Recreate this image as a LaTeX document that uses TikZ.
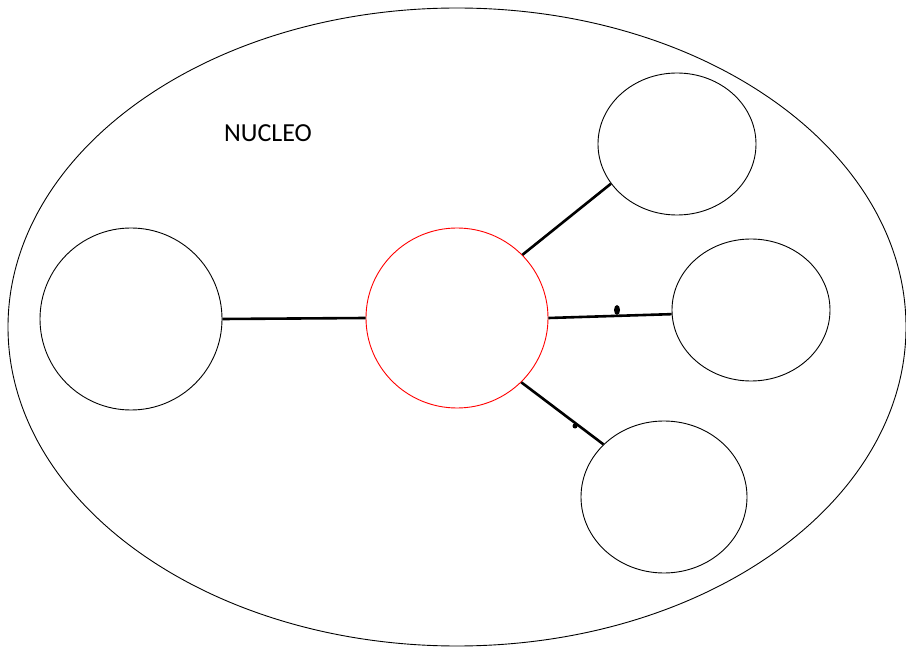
\documentclass[tikz,border=0pt]{standalone}
\usepackage{fontspec}
\setsansfont{Carlito}
\usepackage{xcolor}
\definecolor{ColA}{RGB}{0,0,0}
\definecolor{ColB}{RGB}{255,0,0}
\usetikzlibrary{shapes.geometric}
\tikzstyle{Cell}=[ellipse,draw=ColA,line width=0.9pt,inner sep=0pt]
\tikzstyle{Core}=[ellipse,draw=ColB,line width=0.9pt,inner sep=0pt]
\tikzstyle{Edge}=[draw=ColA,line width=2.6pt]
\tikzstyle{Dot}=[ellipse,fill=ColA,inner sep=0pt]
\tikzstyle{Label}=[font=\sffamily\fontsize{26}{30}\selectfont]
\begin{document}
\begin{tikzpicture}[x=1pt,y=-1pt]
        \useasboundingbox (0,0) rectangle (906,647);
        \node[Cell,minimum width=898,minimum height=638](n)at(457,327){};
        \node[Label](t)at(268,133){NUCLEO};
        \node[Cell,minimum width=182,minimum height=182](l)at(131,319){};
        \node[Core,minimum width=182,minimum height=180](c)at(457,318){};
        \node[Cell,minimum width=158,minimum height=142](a)at(677,144){};
        \node[Cell,minimum width=158,minimum height=142](b)at(751,310){};
        \node[Cell,minimum width=166,minimum height=152](d)at(664,497){};
        \draw[Edge](l.0)--(c.180);
        \draw[Edge](c.44)--(a.211);
        \draw[Edge](c.0)--(b.183);
        \draw[Edge](c.-45)--(d.139);
        \node[Dot,minimum width=6,minimum height=10](p)at(617,310){};
        \node[Dot,minimum width=5,minimum height=5](q)at(575,426){};
    \end{tikzpicture}
\end{document}
